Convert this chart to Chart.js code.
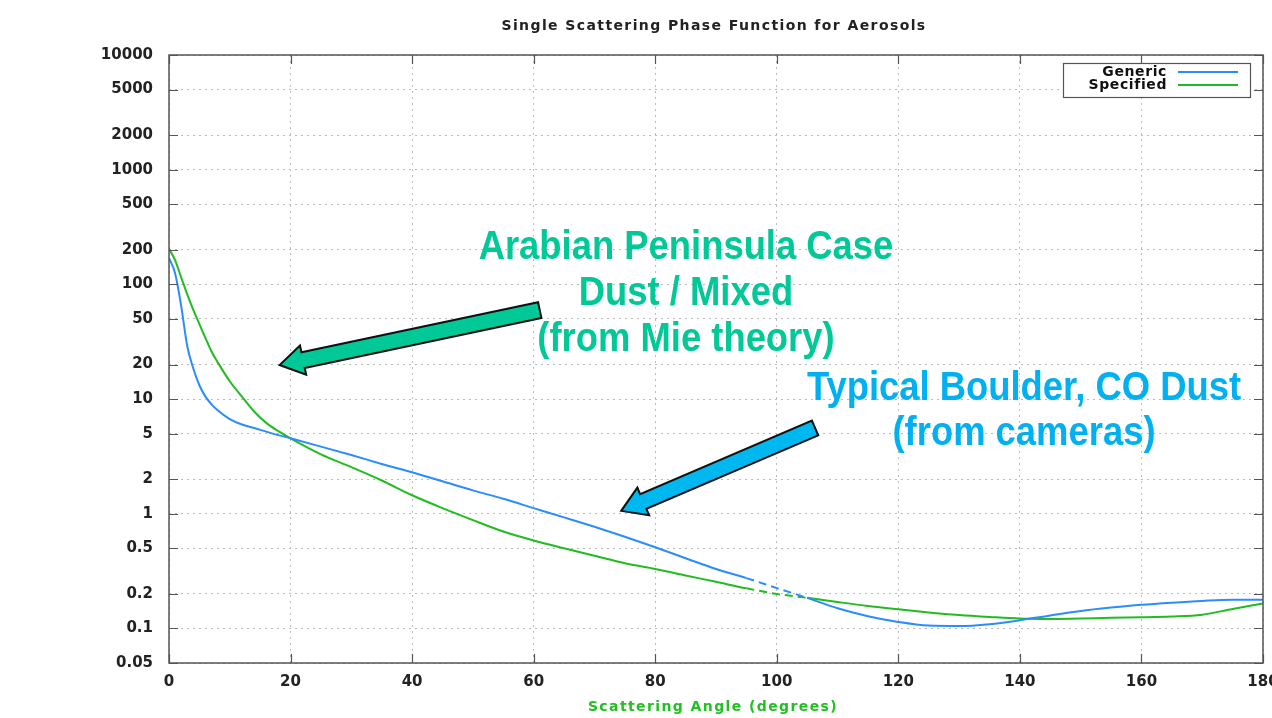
<!DOCTYPE html>
<html>
<head>
<meta charset="utf-8">
<script src="https://cdn.jsdelivr.net/npm/chart.js@4.4.1/dist/chart.umd.min.js"></script>
<style>
  html, body { margin: 0; padding: 0; background: #fff; }
  #wrap { width: 1272px; height: 718px; }
</style>
</head>
<body>
<div id="wrap"><canvas id="chart" width="1272" height="718"></canvas></div>
<script>
// ===== DATA =====
// goc tan xa (do)
const angles = [0, 1, 2, 3, 4, 5, 6, 7, 8, 10, 12, 14, 16, 18, 20, 25, 30, 35, 40, 45, 50, 55, 60, 65, 70, 75, 80, 85, 90,
  95, 100, 105, 110, 115, 120, 125, 130, 135, 140, 145, 150, 155, 160, 165, 170, 175, 180];

const generic = [170, 125, 65, 29, 18.5, 13.2, 10.5, 9.0, 8.0, 6.7, 6.0, 5.6, 5.2, 4.85, 4.55, 3.85, 3.25, 2.72, 2.3, 1.92,
  1.6, 1.35, 1.12, 0.93, 0.77, 0.63, 0.51, 0.41, 0.33, 0.275, 0.225, 0.185, 0.15, 0.128, 0.114, 0.106, 0.105, 0.109,
  0.118, 0.13, 0.142, 0.152, 0.161, 0.168, 0.174, 0.178, 0.178];

const specified = [204, 163, 115, 82, 60, 45, 34, 26, 21, 14.3, 10.5, 7.8, 6.2, 5.25, 4.55, 3.3, 2.55, 1.95, 1.45, 1.12,
  0.88, 0.70, 0.585, 0.50, 0.43, 0.37, 0.33, 0.29, 0.255, 0.224, 0.2, 0.185, 0.17, 0.157, 0.147, 0.138, 0.131, 0.126,
  0.122, 0.121, 0.122, 0.124, 0.125, 0.127, 0.132, 0.148, 0.165];

const xTicks = [0, 20, 40, 60, 80, 100, 120, 140, 160, 180];
const yTicks = [0.05, 0.1, 0.2, 0.5, 1, 2, 5, 10, 20, 50, 100, 200, 500, 1000, 2000, 5000, 10000];

const TICK_FONT = { family: "DejaVu Sans", size: 15, weight: "bold" };

// ===== PLUGIN: khung, vach chia ben trong, legend, chu thich =====
const decorPlugin = {
  id: "decor",
  afterDraw(chart) {
    const { ctx, chartArea: a, scales: { x, y } } = chart;
    ctx.save();

    // khung
    ctx.strokeStyle = "#555";
    ctx.lineWidth = 1.5;
    ctx.strokeRect(a.left, a.top, a.right - a.left, a.bottom - a.top);

    // vach chia huong vao trong
    ctx.lineWidth = 1.2;
    ctx.beginPath();
    yTicks.forEach(v => {
      const py = Math.round(y.getPixelForValue(v)) + 0.5;
      ctx.moveTo(a.left, py); ctx.lineTo(a.left + 9, py);
      ctx.moveTo(a.right, py); ctx.lineTo(a.right - 9, py);
    });
    xTicks.forEach(v => {
      const px = Math.round(x.getPixelForValue(v)) + 0.5;
      ctx.moveTo(px, a.bottom); ctx.lineTo(px, a.bottom - 9);
      ctx.moveTo(px, a.top); ctx.lineTo(px, a.top + 9);
    });
    ctx.stroke();

    // tieu de + ten truc x (gian chu nhu anh goc)
    ctx.textAlign = "center";
    ctx.textBaseline = "middle";
    ctx.letterSpacing = "1.4px";
    ctx.fillStyle = "#222";
    ctx.font = "bold 14px 'DejaVu Sans'";
    ctx.fillText("Single Scattering Phase Function for Aerosols", (a.left + a.right) / 2 - 2, 26);
    ctx.fillStyle = "#22c022";
    ctx.fillText("Scattering Angle (degrees)", (a.left + a.right) / 2 - 3, 707);

    // legend
    const lx = 1063, ly = 63, lw = 187, lh = 34;
    ctx.fillStyle = "#fff";
    ctx.fillRect(lx, ly, lw, lh);
    ctx.strokeStyle = "#555";
    ctx.lineWidth = 1.2;
    ctx.strokeRect(lx + 0.5, ly + 0.5, lw, lh);
    ctx.letterSpacing = "0.6px";
    ctx.font = "bold 14px 'DejaVu Sans'";
    ctx.textAlign = "right";
    chart.data.datasets.forEach((ds, i) => {
      const yy = ly + 9 + i * 13;
      ctx.fillStyle = "#111";
      ctx.fillText(ds.label, lx + 104, yy);
      ctx.strokeStyle = ds.borderColor;
      ctx.lineWidth = 2;
      ctx.beginPath();
      ctx.moveTo(lx + 115, yy); ctx.lineTo(lx + 175, yy);
      ctx.stroke();
    });
    ctx.letterSpacing = "0px";

    // mui ten chu thich
    const arrow = (tail, tip, fill) => {
      const x0 = x.getPixelForValue(tail[0]), y0 = y.getPixelForValue(tail[1]);
      const x1 = x.getPixelForValue(tip[0]), y1 = y.getPixelForValue(tip[1]);
      const len = Math.hypot(x1 - x0, y1 - y0);
      ctx.save();
      ctx.translate(x0, y0);
      ctx.rotate(Math.atan2(y1 - y0, x1 - x0));
      const sw = 8, hw = 15, hl = 24;
      ctx.beginPath();
      ctx.moveTo(0, -sw); ctx.lineTo(len - hl, -sw); ctx.lineTo(len - hl, -hw);
      ctx.lineTo(len, 0);
      ctx.lineTo(len - hl, hw); ctx.lineTo(len - hl, sw); ctx.lineTo(0, sw);
      ctx.closePath();
      ctx.fillStyle = fill;
      ctx.fill();
      ctx.strokeStyle = "#111";
      ctx.lineWidth = 2;
      ctx.lineJoin = "miter";
      ctx.stroke();
      ctx.restore();
    };
    arrow([61.0, 59.7], [18.2, 19.8], "#00C896");
    arrow([106.3, 5.6], [74.4, 1.06], "#00B8F0");

    // chu thich (chu hoi hep ngang)
    const label = (lines, cx, cy0, step, color) => {
      ctx.save();
      ctx.font = "bold 40px 'Liberation Sans'";
      ctx.textAlign = "center";
      ctx.textBaseline = "middle";
      ctx.fillStyle = color;
      ctx.translate(cx, 0);
      ctx.scale(0.91, 1);
      lines.forEach((t, i) => ctx.fillText(t, 0, cy0 + i * step));
      ctx.restore();
    };
    label(["Arabian Peninsula Case", "Dust / Mixed", "(from Mie theory)"], 686, 248, 46, "#00C896");
    label(["Typical Boulder, CO Dust", "(from cameras)"], 1024, 389, 45, "#00B0F0");

    ctx.restore();
  }
};

// ===== CHART =====
const dashRange = c => (c.p0.parsed.x >= 95 && c.p1.parsed.x <= 105) ? [8, 5] : undefined;

new Chart(document.getElementById("chart"), {
  type: "line",
  data: {
    datasets: [
      {
        label: "Generic",
        data: angles.map((a, i) => ({ x: a, y: generic[i] })),
        borderColor: "#2b8cff",
        borderWidth: 2,
        pointRadius: 0,
        cubicInterpolationMode: "monotone",
        segment: { borderDash: dashRange }
      },
      {
        label: "Specified",
        data: angles.map((a, i) => ({ x: a, y: specified[i] })),
        borderColor: "#22bb22",
        borderWidth: 2,
        pointRadius: 0,
        cubicInterpolationMode: "monotone",
        segment: { borderDash: dashRange }
      }
    ]
  },
  options: {
    responsive: false,
    animation: false,
    layout: { padding: { top: 55, right: 9, left: 0, bottom: 0 } },
    plugins: {
      legend: { display: false },
      tooltip: { enabled: false }
    },
    scales: {
      x: {
        type: "linear",
        min: 0,
        max: 180,
        afterBuildTicks: s => { s.ticks = xTicks.map(v => ({ value: v })); },
        afterFit: s => { s.height = 55; s.paddingLeft = 0; s.paddingRight = 0; },
        grid: { color: "#bbb", drawTicks: false, lineWidth: 1 },
        border: { dash: [2, 4], display: false },
        ticks: { color: "#222", font: TICK_FONT, padding: 10, maxRotation: 0 }
      },
      y: {
        type: "logarithmic",
        min: 0.05,
        max: 10000,
        afterBuildTicks: s => { s.ticks = yTicks.map(v => ({ value: v })); },
        afterFit: s => { s.width = 169; s.paddingTop = 0; s.paddingBottom = 0; },
        grid: { color: "#bbb", drawTicks: false, lineWidth: 1 },
        border: { dash: [2, 4], display: false },
        ticks: { color: "#222", font: TICK_FONT, padding: 16, callback: v => String(v) }
      }
    }
  },
  plugins: [decorPlugin]
});
</script>
</body>
</html>
